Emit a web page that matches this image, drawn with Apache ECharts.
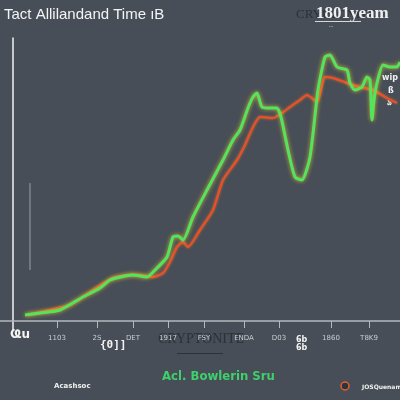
<!DOCTYPE html>
<html>
<head>
<meta charset="utf-8">
<script src="https://cdn.jsdelivr.net/npm/echarts@6/dist/echarts.min.js"></script>
<style>
html,body{margin:0;padding:0;background:#474e57;}
#main{width:400px;height:400px;}
</style>
</head>
<body>
<div id="main"></div>
<script>
// x = time index, y = value
var greenData = [[12,6],[27,8],[47,11],[70,24],[87,33],[97,41],[112,45],[120,46],[134,44],[144,53],[154,64],[160,84],[165,85],[170,81],[180,104],[194,131],[210,161],[220,181],[227,191],[235,213],[240,224],[244,228],[249,214],[257,213],[264,213],[268,204],[275,171],[282,144],[289,141],[297,164],[305,231],[312,264],[317,266],[324,254],[334,251],[337,238],[342,231],[349,234],[354,244],[357,241],[359,201],[361,221],[364,238],[370,256],[377,254],[384,254],[387,259]];
var redData = [[14,6],[37,11],[57,16],[80,31],[100,43],[117,46],[127,46],[140,44],[150,48],[157,59],[164,74],[170,79],[175,74],[187,91],[200,111],[210,141],[224,161],[232,176],[240,194],[247,204],[260,203],[277,214],[287,221],[294,226],[304,219],[312,244],[320,243],[334,238],[347,234],[360,231],[374,223],[384,218]];
var xTickValues = [44,84,120,155,191,231,266,318,356];
var xTickLabels = ['1103','2S','DET','1917','FSY','ENDA','D03','1860','T8K9'];
var yTickValues = [261,218,156,116,99,74,47];
var yTickLabels = ['ab','P3','I8','e','ab','ı','ut'];

var myChart = echarts.init(document.getElementById('main'));

var option = {
    backgroundColor:'#474e57',
    animation:false,
    grid:{left:0,right:0,top:38,bottom:70,containLabel:false,outerBoundsMode:'none'},
    xAxis:{
        type:'value',
        min:-13,
        max:387,
        splitLine:{show:false},
        axisLine:{onZero:true,lineStyle:{color:'#b4b8bd',width:1.5}},
        axisTick:{show:true,customValues:xTickValues,length:7,lineStyle:{color:'#b4b8bd'}},
        axisLabel:{
            customValues:xTickValues,
            margin:5,
            color:'#c9ccd0',
            fontSize:7,
            fontFamily:'DejaVu Sans',
            formatter:function(v){
                var i = xTickValues.indexOf(v);
                return i>=0 ? xTickLabels[i] : '';
            }
        }
    },
    yAxis:{
        type:'value',
        min:-9,
        max:283,
        splitLine:{show:false},
        axisLine:{show:true,onZero:true,lineStyle:{color:'#f2f2f2',width:1.5}},
        axisTick:{show:false},
        axisLabel:{
            customValues:yTickValues,
            margin:3,
            color:'rgba(220,220,220,0.6)',
            fontSize:7,
            formatter:function(v){
                var i = yTickValues.indexOf(v);
                return i>=0 ? yTickLabels[i] : '';
            }
        }
    },
    series:[
        {
            name:'red',
            type:'line',
            data:redData,
            symbol:'none',
            smooth:0.2,
            lineStyle:{color:'#e2512b',width:2.5,shadowColor:'rgba(240,120,40,0.6)',shadowBlur:3}
        },
        {
            name:'green',
            type:'line',
            data:greenData,
            symbol:'none',
            smooth:0.2,
            lineStyle:{color:'#55e35c',width:3,shadowColor:'rgba(230,210,50,0.8)',shadowBlur:4}
        }
    ],
    graphic:[
        {type:'text',left:4,top:7,style:{text:'Tact Allilandand Time ıB',fill:'#f4f4f4',font:'15px "Liberation Sans"'}},
        {type:'text',left:296,top:8,style:{text:'CRYPTONITE',fill:'#2c3138',font:'13px "Liberation Serif"'}},
        {type:'text',left:316,top:5,style:{text:'1801yeam',fill:'#f0f0f0',font:'bold 17px "Liberation Serif"'}},
        {type:'rect',shape:{x:315,y:21,width:46,height:1},style:{fill:'#d8d8d8'}},
        {type:'text',left:329,top:25,style:{text:'•••',fill:'#9aa0a6',font:'4px sans-serif'}},
        {type:'line',shape:{x1:30,y1:183,x2:30,y2:270},style:{stroke:'rgba(200,204,210,0.55)',lineWidth:1.2}},
        {type:'text',left:382,top:74,style:{text:'wip',fill:'#f2f2f2',font:'bold 8px "DejaVu Sans"'}},
        {type:'text',left:388,top:87,style:{text:'ß',fill:'#f2f2f2',font:'bold 8px "DejaVu Sans"'}},
        {type:'text',left:387,top:99,style:{text:'ঌ',fill:'#f2f2f2',font:'bold 8px "DejaVu Sans"'}},
        {type:'text',left:10,top:329,style:{text:'Ҩu',fill:'#f4f4f4',font:'bold 12px "DejaVu Sans"'}},
        {type:'text',left:100,top:340,style:{text:'{0]]',fill:'#f4f4f4',font:'bold 11px "DejaVu Sans Mono"'}},
        {type:'text',left:158,top:332,style:{text:'CRYPTONITE',fill:'#2c3138',font:'14px "Liberation Serif"'}},
        {type:'rect',shape:{x:177,y:353,width:46,height:1},style:{fill:'#2c3138'}},
        {type:'text',left:296,top:336,style:{text:'6b\n6b',fill:'#f4f4f4',font:'bold 8px "DejaVu Sans"',lineHeight:8}},
        {type:'text',left:54,top:383,style:{text:'Acashsoc',fill:'#f0f0f0',font:'bold 7px "DejaVu Sans"'}},
        {type:'text',left:162,top:370,style:{text:'Acl. Bowlerin Sru',fill:'#3fd06c',font:'bold 13px "DejaVu Sans Condensed"'}},
        {type:'circle',shape:{cx:345,cy:386,r:4},style:{fill:'#2f343a',stroke:'#e0622e',lineWidth:1.5}},
        {type:'text',left:362,top:384,style:{text:'JOSQuename',fill:'#f0f0f0',font:'bold 6px "DejaVu Sans"'}}
    ]
};
myChart.setOption(option);
</script>
</body>
</html>
